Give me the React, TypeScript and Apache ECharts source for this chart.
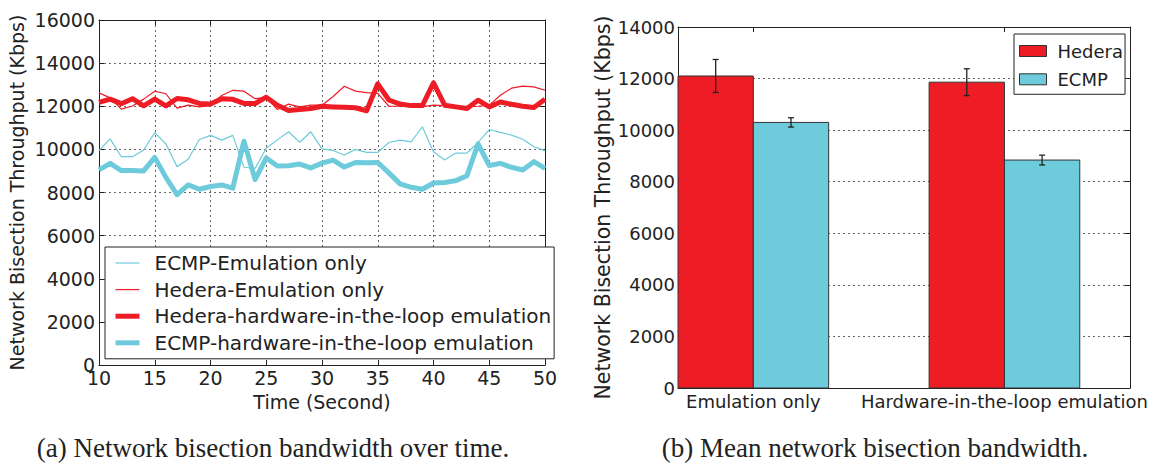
import React, { useEffect, useRef } from "react";
import * as echarts from "echarts";

// ---------- Data: (a) throughput over time ----------
const times = [10, 11, 12, 13, 14, 15, 16, 17, 18, 19, 20, 21, 22, 23, 24, 25, 26, 27, 28, 29, 30,
  31, 32, 33, 34, 35, 36, 37, 38, 39, 40, 41, 42, 43, 44, 45, 46, 47, 48, 49, 50];

const ecmpEmulation = [9950, 10490, 9660, 9660, 9970, 10780, 10250, 9200, 9540, 10460, 10650,
  10430, 10650, 9170, 9120, 10050, 10440, 10815, 10330, 10815, 10020,
  9950, 9740, 10000, 9860, 9860, 10320, 10430, 10350, 11050, 9890,
  9510, 9830, 9830, 10320, 10920, 10790, 10660, 10470, 10120, 9940];

const hederaEmulation = [12620, 12390, 11870, 12010, 12330, 12700, 12580, 11910, 12050, 11970, 12030,
  12500, 12740, 12700, 12350, 12400, 11850, 12100, 11970, 12050, 12050,
  12450, 12930, 12700, 12630, 12600, 12000, 12000, 11980, 11980, 12050,
  12030, 11990, 11980, 12000, 12050, 12510, 12840, 12930, 12900, 12740];

const hederaHil = [12180, 12330, 12120, 12350, 12020, 12330, 12020, 12360, 12300, 12130, 12100,
  12350, 12320, 12130, 12130, 12420, 12050, 11800, 11850, 11890, 12000,
  11970, 11950, 11930, 11790, 13040, 12290, 12100, 12030, 12030, 13090,
  12050, 11970, 11900, 12280, 11970, 12200, 12090, 12000, 11940, 12330];

const ecmpHil = [9050, 9350, 9015, 9015, 9000, 9630, 8700, 7900, 8350, 8150, 8280,
  8350, 8200, 10380, 8600, 9600, 9230, 9240, 9320, 9140, 9360,
  9500, 9180, 9390, 9385, 9390, 8910, 8400, 8240, 8150, 8440,
  8460, 8550, 8780, 10260, 9250, 9350, 9170, 9045, 9430, 9120];

const leftSeriesNames = [
  "ECMP-Emulation only",
  "Hedera-Emulation only",
  "Hedera-hardware-in-the-loop emulation",
  "ECMP-hardware-in-the-loop emulation",
];

// ---------- Data: (b) mean bandwidth ----------
const barCategories = ["Emulation only", "Hardware-in-the-loop emulation"];
const hederaMean = [12100, 11860];
const hederaErr = [640, 520];
const ecmpMean = [10300, 8840];
const ecmpErr = [180, 190];

const leftYTicks = { min: 0, max: 16000, interval: 2000 };
const rightYTicks = { min: 0, max: 14000, interval: 2000 };

// ---------- Styling ----------
const RED = "#ee1c25";
const CYAN = "#6ecbdb";
const INK = "#222222";
const FONT = "'DejaVu Sans', sans-serif";
const SERIF = "'Liberation Serif', 'Times New Roman', serif";
const BAR_W = 0.3;

function barRender(params: any, api: any) {
  const x0 = api.value(0);
  const y = api.value(1);
  const e = api.value(2);
  const p0 = api.coord([x0, y]);
  const p1 = api.coord([x0 + BAR_W, 0]);
  const cx = api.coord([x0 + BAR_W / 2, 0])[0];
  const hi = api.coord([x0, y + e])[1];
  const lo = api.coord([x0, y - e])[1];
  const capStyle = { stroke: INK, lineWidth: 1.3 };
  return {
    type: "group",
    children: [
      {
        type: "rect",
        shape: { x: p0[0], y: p0[1], width: p1[0] - p0[0], height: p1[1] - p0[1] },
        style: { fill: api.visual("color"), stroke: "#333", lineWidth: 1 },
      },
      { type: "line", shape: { x1: cx, y1: hi, x2: cx, y2: lo }, style: capStyle },
      { type: "line", shape: { x1: cx - 3, y1: hi, x2: cx + 3, y2: hi }, style: capStyle },
      { type: "line", shape: { x1: cx - 3, y1: lo, x2: cx + 3, y2: lo }, style: capStyle },
    ],
  };
}

const plain = (v: number) => String(v);
const hiddenSymbol = { color: "rgba(0,0,0,0)", borderWidth: 0, opacity: 0 };

export default function App() {
  const ref = useRef<HTMLDivElement>(null);

  useEffect(() => {
    if (!ref.current) return;
    const chart = echarts.init(ref.current, undefined, { renderer: "svg" });

    const pair = (arr: number[]) => times.map((t, i) => [t, arr[i]]);
    const splitDotted = { show: true, lineStyle: { color: "#666", type: [2, 3] as any, width: 1 } };
    const axisLine = { show: true, onZero: false, lineStyle: { color: INK, width: 1 } };
    const tickIn = { show: true, inside: true, length: 5, lineStyle: { color: INK } };

    const option: any = {
      animation: false,
      backgroundColor: "#ffffff",
      textStyle: { fontFamily: FONT },
      grid: [
        { left: 99, top: 20, width: 446, height: 345 },
        { left: 678, top: 27, width: 452, height: 361 },
      ],
      xAxis: [
        {
          type: "value", gridIndex: 0, min: 10, max: 50, interval: 5,
          axisLine, axisTick: tickIn, splitLine: splitDotted,
          axisLabel: { fontSize: 19, color: INK, margin: 3, fontFamily: FONT, formatter: plain },
          name: "Time (Second)", nameLocation: "middle", nameGap: 27,
          nameTextStyle: { fontSize: 19, color: INK, fontFamily: FONT },
        },
        {
          type: "value", gridIndex: 0, min: 10, max: 50, interval: 5, position: "top",
          axisLine, axisTick: tickIn, splitLine: { show: false }, axisLabel: { show: false },
        },
        {
          type: "value", gridIndex: 1, min: 0, max: 1.8, position: "bottom",
          axisLine, splitLine: { show: false },
          axisTick: { ...tickIn, customValues: [BAR_W, 1 + BAR_W] },
          axisLabel: {
            fontSize: 18, color: INK, margin: 4, fontFamily: FONT,
            customValues: [BAR_W, 1 + BAR_W],
            formatter: (v: number) => barCategories[Math.round(v - BAR_W)],
          },
        },
        {
          type: "value", gridIndex: 1, min: 0, max: 1.8, position: "top",
          axisLine, splitLine: { show: false },
          axisTick: { ...tickIn, customValues: [BAR_W, 1 + BAR_W] },
          axisLabel: { show: false },
        },
      ],
      yAxis: [
        {
          type: "value", gridIndex: 0, ...leftYTicks,
          axisLine, axisTick: tickIn, splitLine: splitDotted,
          axisLabel: { fontSize: 19, color: INK, margin: 4, fontFamily: FONT, formatter: plain },
          name: "Network Bisection Throughput (Kbps)", nameLocation: "middle", nameGap: 73,
          nameTextStyle: { fontSize: 19, color: INK, fontFamily: FONT },
        },
        {
          type: "value", gridIndex: 0, ...leftYTicks, position: "right",
          axisLine, axisTick: tickIn, splitLine: { show: false }, axisLabel: { show: false },
        },
        {
          type: "value", gridIndex: 1, ...rightYTicks,
          axisLine, axisTick: tickIn, splitLine: splitDotted,
          axisLabel: { fontSize: 18, color: INK, margin: 3, fontFamily: FONT, formatter: plain },
          name: "Network Bisection Throughput (Kbps)", nameLocation: "middle", nameGap: 61,
          nameTextStyle: { fontSize: 20.5, color: INK, fontFamily: FONT },
        },
        {
          type: "value", gridIndex: 1, ...rightYTicks, position: "right",
          axisLine, axisTick: tickIn, splitLine: { show: false }, axisLabel: { show: false },
        },
      ],
      legend: [
        {
          orient: "vertical", left: 105, top: 247,
          selectedMode: false,
          itemWidth: 24, itemHeight: 20, itemGap: 6.6,
          padding: [6, 3, 6, 8],
          backgroundColor: "#ffffff", borderColor: INK, borderWidth: 1, borderRadius: 0,
          textStyle: { fontSize: 20, color: INK, fontFamily: FONT, lineHeight: 20, padding: [0, 0, 0, 10] },
          data: [
            { name: leftSeriesNames[0], itemStyle: hiddenSymbol, lineStyle: { width: 1.2, color: CYAN } },
            { name: leftSeriesNames[1], itemStyle: hiddenSymbol, lineStyle: { width: 1.2, color: RED } },
            { name: leftSeriesNames[2], itemStyle: hiddenSymbol, lineStyle: { width: 5, color: RED } },
            { name: leftSeriesNames[3], itemStyle: hiddenSymbol, lineStyle: { width: 5, color: CYAN } },
          ],
        },
        {
          orient: "vertical", left: 1014, top: 34,
          selectedMode: false,
          itemWidth: 27, itemHeight: 11, itemGap: 8.3,
          padding: [7, 2, 5, 5],
          backgroundColor: "#ffffff", borderColor: INK, borderWidth: 1, borderRadius: 0,
          textStyle: { fontSize: 18, color: INK, fontFamily: FONT, lineHeight: 20, padding: [0, 0, 0, 6] },
          data: [
            { name: "Hedera", icon: "rect", itemStyle: { color: RED, borderColor: "#333", borderWidth: 1 } },
            { name: "ECMP", icon: "rect", itemStyle: { color: CYAN, borderColor: "#333", borderWidth: 1 } },
          ],
        },
      ],
      series: [
        {
          name: leftSeriesNames[0], type: "line", xAxisIndex: 0, yAxisIndex: 0,
          data: pair(ecmpEmulation), symbol: "none", showSymbol: false,
          itemStyle: { color: CYAN }, lineStyle: { width: 1.2, color: CYAN }, z: 2,
        },
        {
          name: leftSeriesNames[1], type: "line", xAxisIndex: 0, yAxisIndex: 0,
          data: pair(hederaEmulation), symbol: "none", showSymbol: false,
          itemStyle: { color: RED }, lineStyle: { width: 1.2, color: RED }, z: 2,
        },
        {
          name: leftSeriesNames[2], type: "line", xAxisIndex: 0, yAxisIndex: 0,
          data: pair(hederaHil), symbol: "none", showSymbol: false,
          itemStyle: { color: RED }, lineStyle: { width: 5, color: RED, join: "round" }, z: 3,
        },
        {
          name: leftSeriesNames[3], type: "line", xAxisIndex: 0, yAxisIndex: 0,
          data: pair(ecmpHil), symbol: "none", showSymbol: false,
          itemStyle: { color: CYAN }, lineStyle: { width: 5, color: CYAN, join: "round" }, z: 3,
        },
        {
          name: "Hedera", type: "custom", xAxisIndex: 2, yAxisIndex: 2,
          renderItem: barRender, itemStyle: { color: RED },
          encode: { x: 0, y: 1 },
          data: hederaMean.map((m, i) => [i, m, hederaErr[i]]),
        },
        {
          name: "ECMP", type: "custom", xAxisIndex: 2, yAxisIndex: 2,
          renderItem: barRender, itemStyle: { color: CYAN },
          encode: { x: 0, y: 1 },
          data: ecmpMean.map((m, i) => [i + BAR_W, m, ecmpErr[i]]),
        },
      ],
      graphic: [
        {
          type: "text", x: 273, y: 448,
          style: { text: "(a) Network bisection bandwidth over time.", font: `27px ${SERIF}`, fill: "#222", textAlign: "center", textVerticalAlign: "middle" },
        },
        {
          type: "text", x: 875, y: 448,
          style: { text: "(b) Mean network bisection bandwidth.", font: `27px ${SERIF}`, fill: "#222", textAlign: "center", textVerticalAlign: "middle" },
        },
      ],
    };

    chart.setOption(option);
    return () => chart.dispose();
  }, []);

  return (
    <div
      ref={ref}
      style={{ position: "fixed", left: 0, top: 0, width: 1154, height: 467, background: "#fff" }}
    />
  );
}
